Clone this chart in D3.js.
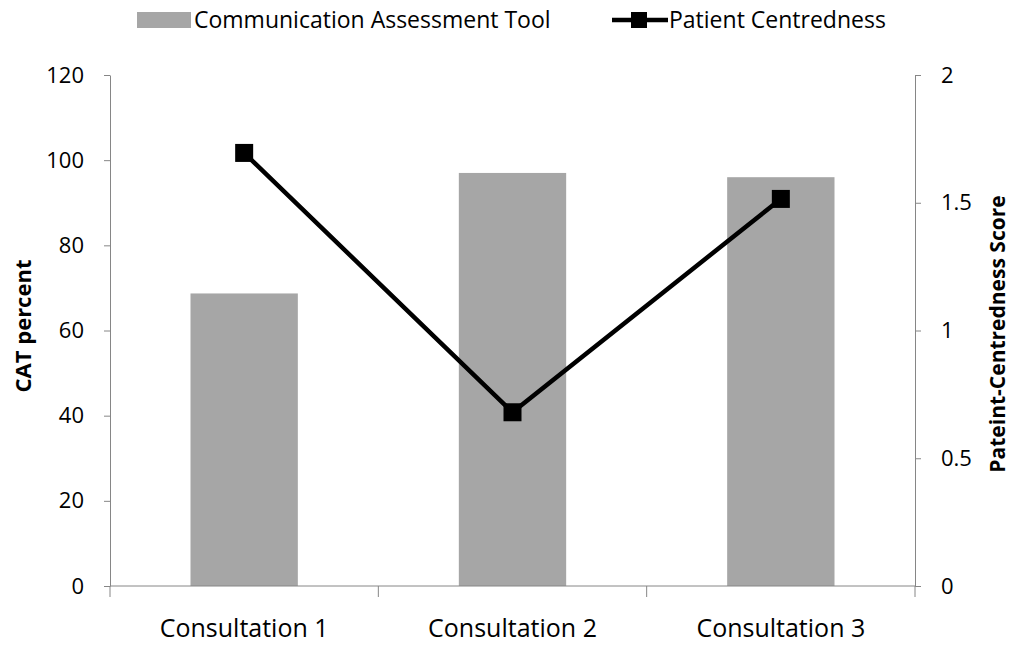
<!DOCTYPE html>
<html>
<head>
<meta charset="utf-8">
<script src="https://cdn.jsdelivr.net/npm/d3@7"></script>
<style>
  body { margin: 0; background: #fff; }
  text { font-family: "Open Sans", "Noto Sans", sans-serif; fill: #000; }
</style>
</head>
<body>
<div id="chart"></div>
<script>
const categories = ["Consultation 1", "Consultation 2", "Consultation 3"];
const catValues = [68.7, 97.0, 96.0];
const pcsValues = [1.695, 0.68, 1.515];
const leftTicks = [0, 20, 40, 60, 80, 100, 120];
const rightTicks = [0, 0.5, 1, 1.5, 2];

const width = 1013, height = 646;
const margin = {top: 75, right: 98, bottom: 60, left: 110};

const svg = d3.select("#chart")
              .append("svg")
              .attr("width", width)
              .attr("height", height);

const x = d3.scaleBand()
            .domain(categories)
            .range([margin.left, width - margin.right])
            .paddingInner(0.6)
            .paddingOuter(0.3);

const xPos = d3.scalePoint()
               .domain(categories)
               .range([margin.left, width - margin.right])
               .padding(0.5);

const yLeft = d3.scaleLinear().domain([0, 120]).range([height - margin.bottom, margin.top]);
const yRight = d3.scaleLinear().domain([0, 2]).range([height - margin.bottom, margin.top]);

const axisColor = "#868686";

// bars
svg.selectAll(".bar")
   .data(categories)
   .enter()
   .append("rect")
   .attr("class", "bar")
   .attr("x", function(d) { return x(d); })
   .attr("width", x.bandwidth())
   .attr("y", function(d, i) { return yLeft(catValues[i]); })
   .attr("height", function(d, i) { return yLeft(0) - yLeft(catValues[i]); })
   .attr("fill", "#a6a6a6");

// left axis
const gLeft = svg.append("g")
                 .attr("transform", "translate(" + margin.left + ",0)")
                 .call(d3.axisLeft(yLeft).tickValues(leftTicks).tickSize(6).tickSizeOuter(0).tickPadding(20));

// right axis
const gRight = svg.append("g")
                  .attr("transform", "translate(" + (width - margin.right) + ",0)")
                  .call(d3.axisRight(yRight).tickValues(rightTicks).tickSize(6).tickSizeOuter(0).tickPadding(20)
                  .tickFormat(d3.format("")));

// x axis
const tickEdges = d3.range(categories.length + 1).map(function(i) {
    return margin.left + i * (width - margin.left - margin.right) / categories.length;
});
const gX = svg.append("g").attr("class", "xaxis");
gX.append("line")
  .attr("x1", margin.left).attr("x2", width - margin.right)
  .attr("y1", yLeft(0)).attr("y2", yLeft(0))
  .attr("stroke", axisColor);
gX.selectAll(".xtick")
  .data(tickEdges)
  .enter()
  .append("line")
  .attr("x1", function(d) { return d; })
  .attr("x2", function(d) { return d; })
  .attr("y1", yLeft(0))
  .attr("y2", yLeft(0) + 11)
  .attr("stroke", axisColor);
gX.selectAll(".xlabel")
  .data(categories)
  .enter()
  .append("text")
  .attr("x", function(d) { return xPos(d); })
  .attr("y", yLeft(0) + 51)
  .attr("text-anchor", "middle")
  .style("font-size", "25px")
  .text(function(d) { return d; });

[gLeft, gRight].forEach(function(g) {
    g.select(".domain").attr("stroke", axisColor);
    g.selectAll(".tick line").attr("stroke", axisColor);
    g.selectAll(".tick text").style("font-size", "22px").attr("fill", "#000");
});

// line
const line = d3.line()
               .x(function(d, i) { return xPos(categories[i]); })
               .y(function(d) { return yRight(d); });

svg.append("path")
   .datum(pcsValues)
   .attr("d", line)
   .attr("fill", "none")
   .attr("stroke", "#000")
   .attr("stroke-width", 4.5);

const ms = 18;
svg.selectAll(".marker")
   .data(pcsValues)
   .enter()
   .append("rect")
   .attr("class", "marker")
   .attr("x", function(d, i) { return xPos(categories[i]) - ms / 2; })
   .attr("y", function(d) { return yRight(d) - ms / 2; })
   .attr("width", ms)
   .attr("height", ms)
   .attr("fill", "#000");

// axis titles
svg.append("text")
   .attr("transform", "translate(31,326) rotate(-90)")
   .attr("text-anchor", "middle")
   .style("font-size", "22px")
   .style("font-weight", "bold")
   .text("CAT percent");

svg.append("text")
   .attr("transform", "translate(1005,334) rotate(-90)")
   .attr("text-anchor", "middle")
   .style("font-size", "21px")
   .style("font-weight", "bold")
   .text("Pateint-Centredness Score");

// legend
const legend = svg.append("g").attr("class", "legend");
legend.append("rect")
      .attr("x", 137).attr("y", 12)
      .attr("width", 54).attr("height", 16)
      .attr("fill", "#a6a6a6");
legend.append("text")
      .attr("x", 194).attr("y", 28)
      .style("font-size", "23px")
      .text("Communication Assessment Tool");
legend.append("line")
      .attr("x1", 612).attr("x2", 668)
      .attr("y1", 20).attr("y2", 20)
      .attr("stroke", "#000").attr("stroke-width", 4.5);
legend.append("rect")
      .attr("x", 631).attr("y", 12)
      .attr("width", 16).attr("height", 16)
      .attr("fill", "#000");
legend.append("text")
      .attr("x", 669).attr("y", 28)
      .style("font-size", "23px")
      .text("Patient Centredness");
</script>
</body>
</html>
